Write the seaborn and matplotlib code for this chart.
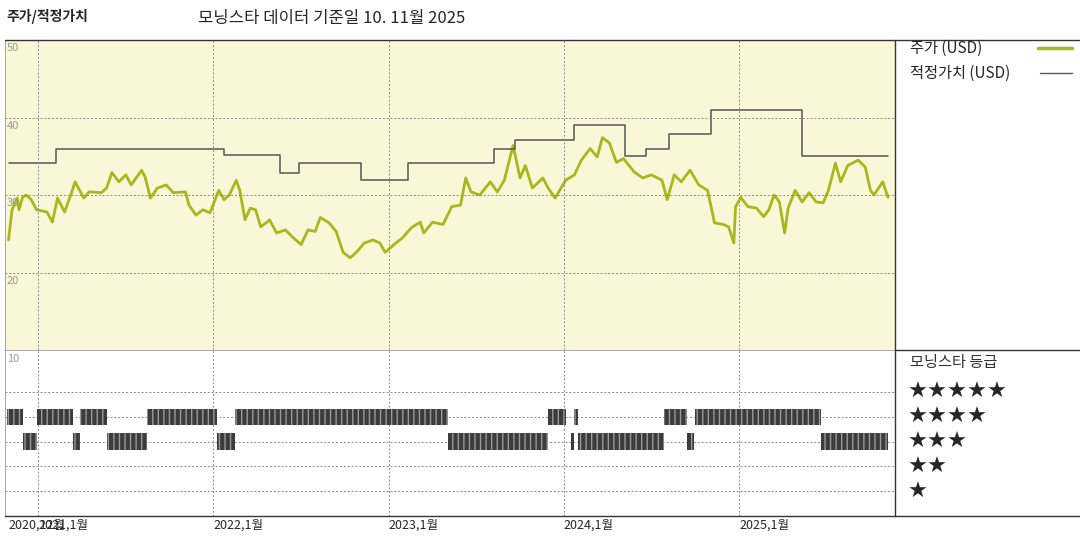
import matplotlib
matplotlib.use('Agg')
import matplotlib.pyplot as plt
import numpy as np
import pandas as pd
import seaborn as sns

# Price (USD), decimal year
PRICE_T = [2020.83, 2020.85, 2020.88, 2020.89, 2020.91, 2020.93, 2020.96, 2020.99, 2021.05, 2021.08,
           2021.11, 2021.15, 2021.19, 2021.21, 2021.26, 2021.29, 2021.36, 2021.39, 2021.42, 2021.46,
           2021.50, 2021.53, 2021.59, 2021.61, 2021.64, 2021.68, 2021.73, 2021.77, 2021.84, 2021.86,
           2021.90, 2021.94, 2021.98, 2022.03, 2022.06, 2022.09, 2022.13, 2022.15, 2022.18, 2022.21,
           2022.24, 2022.27, 2022.30, 2022.32, 2022.36, 2022.41, 2022.45, 2022.50, 2022.54, 2022.58,
           2022.61, 2022.66, 2022.70, 2022.74, 2022.78, 2022.82, 2022.86, 2022.91, 2022.95, 2022.98,
           2023.03, 2023.08, 2023.13, 2023.18, 2023.20, 2023.25, 2023.31, 2023.36, 2023.41, 2023.44,
           2023.47, 2023.52, 2023.58, 2023.62, 2023.66, 2023.71, 2023.75, 2023.78, 2023.82, 2023.88,
           2023.91, 2023.95, 2024.01, 2024.06, 2024.10, 2024.15, 2024.19, 2024.22, 2024.26, 2024.30,
           2024.34, 2024.40, 2024.45, 2024.50, 2024.56, 2024.59, 2024.63, 2024.67, 2024.72, 2024.77,
           2024.82, 2024.86, 2024.91, 2024.94, 2024.97, 2024.98, 2025.01, 2025.05, 2025.10, 2025.14,
           2025.17, 2025.20, 2025.23, 2025.26, 2025.28, 2025.32, 2025.36, 2025.40, 2025.44, 2025.48,
           2025.51, 2025.55, 2025.58, 2025.62, 2025.68, 2025.72, 2025.75, 2025.77, 2025.82, 2025.85]
PRICE = [24.2, 28.1, 29.6, 28.1, 29.7, 30.0, 29.4, 28.1, 27.8, 26.5,
         29.6, 27.8, 30.3, 31.7, 29.6, 30.4, 30.3, 30.9, 32.9, 31.7,
         32.6, 31.3, 33.2, 32.3, 29.6, 30.9, 31.3, 30.3, 30.4, 28.7,
         27.4, 28.1, 27.7, 30.6, 29.4, 30.0, 31.9, 30.6, 26.8, 28.3,
         28.1, 25.9, 26.4, 26.8, 25.1, 25.5, 24.6, 23.6, 25.5, 25.3,
         27.1, 26.4, 25.3, 22.6, 21.9, 22.7, 23.8, 24.2, 23.8, 22.6,
         23.6, 24.5, 25.8, 26.5, 25.1, 26.5, 26.2, 28.5, 28.7, 32.2,
         30.4, 30.0, 31.7, 30.4, 31.9, 36.4, 32.2, 33.8, 30.9, 32.2,
         30.9, 29.6, 31.9, 32.6, 34.5, 36.0, 34.9, 37.4, 36.7, 34.2,
         34.7, 33.0, 32.2, 32.6, 31.9, 29.4, 32.6, 31.7, 33.2, 31.3,
         30.6, 26.4, 26.2, 25.9, 23.8, 28.5, 29.7, 28.5, 28.3, 27.2,
         28.1, 30.0, 29.1, 25.1, 28.3, 30.6, 29.1, 30.3, 29.1, 29.0,
         30.6, 34.1, 31.7, 33.8, 34.5, 33.6, 30.6, 30.0, 31.7, 29.7]

# Fair value steps (start year, value)
FV_T = [2020.83, 2021.10, 2022.06, 2022.38, 2022.49, 2022.84, 2023.11, 2023.60, 2023.72,
        2024.06, 2024.35, 2024.47, 2024.60, 2024.84, 2025.36, 2025.85]
FV = [34.1, 36.0, 35.1, 32.9, 34.1, 31.9, 34.1, 36.0, 37.1,
      39.0, 35.0, 36.0, 37.9, 41.0, 35.0, 35.0]

# Morningstar rating periods (start, end, stars)
RATING_START = [2020.82, 2020.99, 2021.24, 2021.62, 2022.12, 2023.91, 2024.06, 2024.57, 2024.75,
                2020.91, 2021.20, 2021.39, 2022.02, 2023.34, 2024.04, 2024.08, 2024.70, 2025.47]
RATING_END = [2020.91, 2021.20, 2021.39, 2022.02, 2023.34, 2024.01, 2024.08, 2024.70, 2025.47,
              2020.99, 2021.24, 2021.62, 2022.12, 2023.91, 2024.06, 2024.57, 2024.74, 2025.85]
RATING_STARS = [4, 4, 4, 4, 4, 4, 4, 4, 4,
                3, 3, 3, 3, 3, 3, 3, 3, 3]

X_TICKS = [2020.83, 2021.0, 2022.0, 2023.0, 2024.0, 2025.0]
X_LABELS = ['2020,12월', '2021,1월', '2022,1월', '2023,1월', '2024,1월', '2025,1월']

sns.set_style('white')
plt.rcParams['font.family'] = ['Noto Sans CJK KR', 'DejaVu Sans']

XMIN, XMAX = 2020.81, 2025.89
OLIVE = '#a9b71c'
GRID = dict(color='#888888', linestyle=(0, (2, 2)), linewidth=0.7)

fig = plt.figure(figsize=(10.8, 5.4), dpi=100)
ax = fig.add_axes([5 / 1080, 190 / 540, 890 / 1080, 310 / 540])
axr = fig.add_axes([5 / 1080, 24 / 540, 890 / 1080, 166 / 540])

# price panel
ax.set_facecolor('#faf6d8')
price = pd.DataFrame({'t': PRICE_T, 'v': PRICE})
sns.lineplot(data=price, x='t', y='v', ax=ax, color=OLIVE, linewidth=2.0)
ax.step(FV_T, FV, where='post', color='#555555', linewidth=1.1)
ax.set_xlim(XMIN, XMAX)
ax.set_ylim(10, 50)
ax.set_xlabel('')
ax.set_ylabel('')
ax.set_xticks([])
ax.set_yticks([])
for yv in [20, 30, 40]:
    ax.axhline(yv, **GRID)
for xv in X_TICKS[1:]:
    ax.axvline(xv, **GRID)
for yv in [20, 30, 40, 50]:
    ax.text(XMIN + 0.01, yv - 0.4, str(yv), color='#999999', fontsize=8, va='top')
for s in ax.spines.values():
    s.set_color('#999999')
    s.set_linewidth(0.6)

# rating panel
for st, en, stars in zip(RATING_START, RATING_END, RATING_STARS):
    axr.broken_barh([(st, en - st)], (stars - 0.33, 0.66), facecolors='#3c3c3c',
                    edgecolors='#9a9a9a', hatch='|||', linewidth=0)
axr.set_xlim(XMIN, XMAX)
axr.set_ylim(0.0, 6.7)
axr.set_yticks([])
for yv in [1, 2, 3, 4, 5]:
    axr.axhline(yv, zorder=0, **GRID)
for xv in X_TICKS[1:]:
    axr.axvline(xv, zorder=0, **GRID)
axr.text(XMIN + 0.01, 6.55, '10', color='#999999', fontsize=8, va='top')
axr.set_xticks(X_TICKS)
axr.set_xticklabels(X_LABELS, fontsize=9, ha='left')
axr.tick_params(axis='x', length=0, pad=2)
for s in axr.spines.values():
    s.set_color('#999999')
    s.set_linewidth(0.6)
axr.spines['bottom'].set_color('#333333')
axr.spines['bottom'].set_linewidth(1.0)

# right side panel frame
fig.add_artist(plt.Line2D([895 / 1080, 895 / 1080], [24 / 540, 500 / 540], color='#333333', lw=1))
fig.add_artist(plt.Line2D([5 / 1080, 1], [500 / 540, 500 / 540], color='#333333', lw=1))
fig.add_artist(plt.Line2D([895 / 1080, 1], [190 / 540, 190 / 540], color='#333333', lw=1))
fig.add_artist(plt.Line2D([895 / 1080, 1], [24 / 540, 24 / 540], color='#333333', lw=1))

# legend
fig.text(910 / 1080, 1 - 48 / 540, '주가 (USD)', fontsize=11, va='center')
fig.add_artist(plt.Line2D([1038 / 1080, 1072 / 1080], [1 - 48 / 540] * 2, color=OLIVE, lw=2.5))
fig.text(910 / 1080, 1 - 73 / 540, '적정가치 (USD)', fontsize=11, va='center')
fig.add_artist(plt.Line2D([1040 / 1080, 1072 / 1080], [1 - 73 / 540] * 2, color='#555555', lw=1))

fig.text(910 / 1080, 1 - 362 / 540, '모닝스타 등급', fontsize=11, va='center', color='#333333')
for i, n in enumerate([5, 4, 3, 2, 1]):
    fig.text(908 / 1080, 1 - (392 + 25 * i) / 540, '★' * n, fontsize=16, va='center',
             family=['DejaVu Sans'])

# titles
fig.text(6 / 1080, 1 - 16 / 540, '주가/적정가치', fontsize=10, fontweight='bold', va='center')
fig.text(198 / 1080, 1 - 19 / 540, '모닝스타 데이터 기준일 10. 11월 2025', fontsize=12, va='center')

fig.savefig('out.png', dpi=100, facecolor='white')
